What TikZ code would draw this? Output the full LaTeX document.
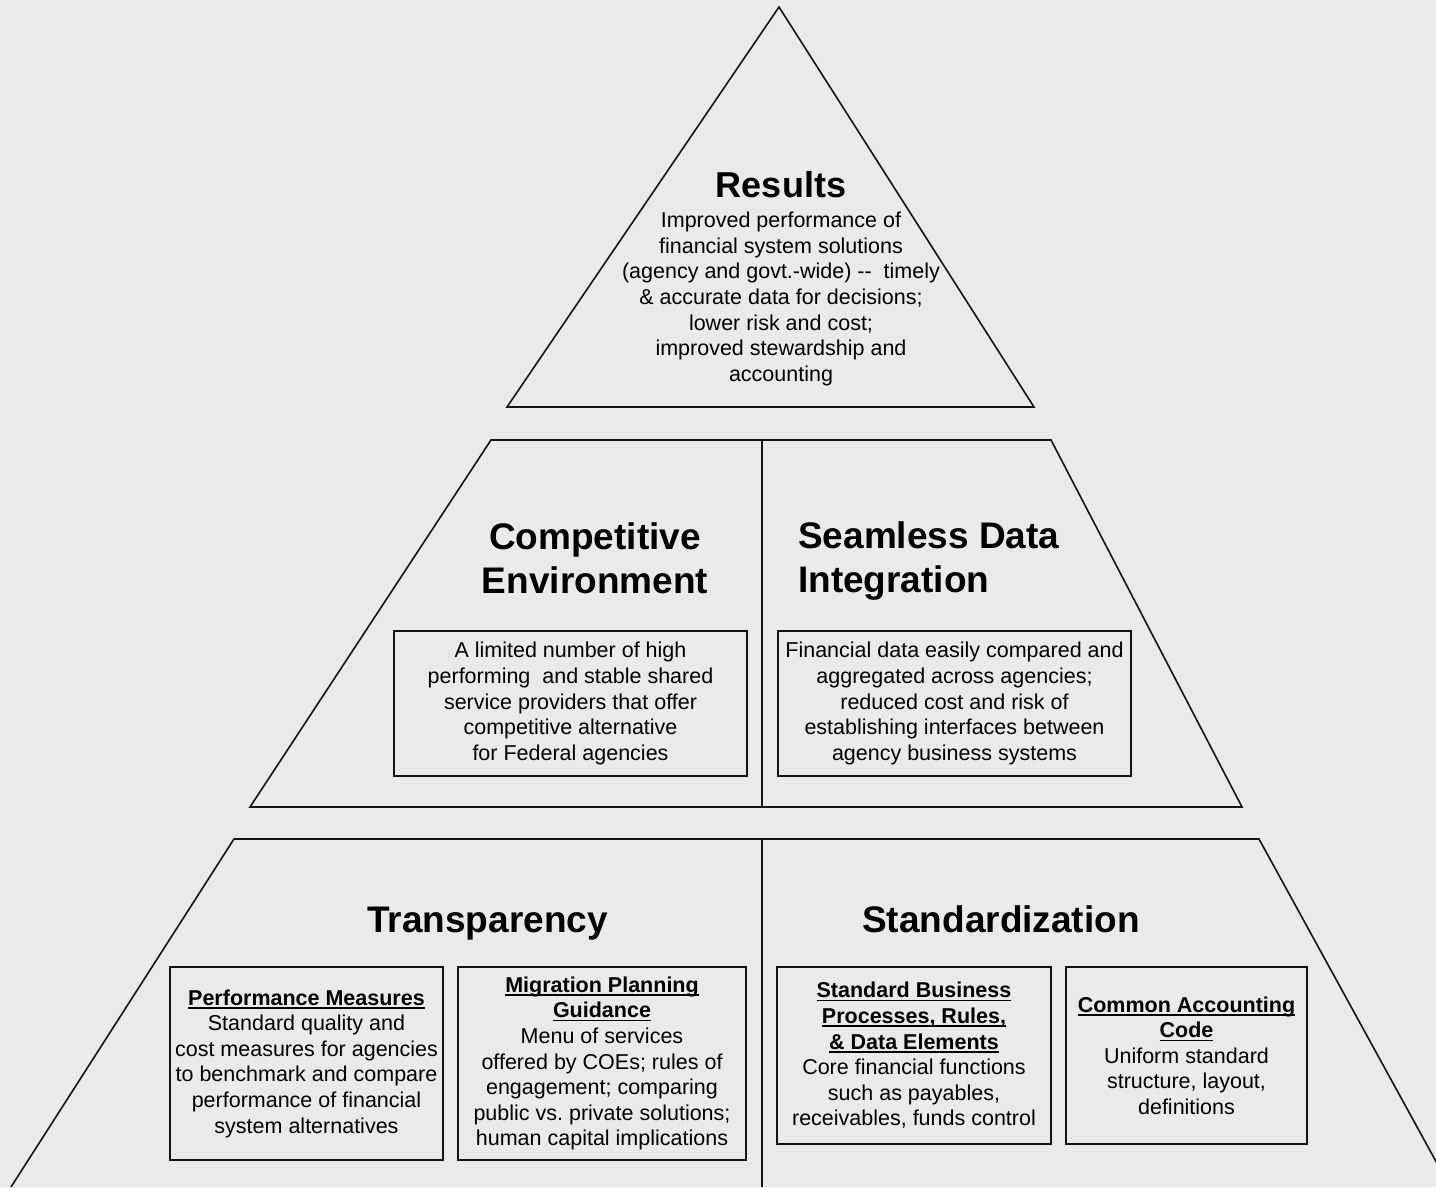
\documentclass[tikz,border=0pt]{standalone}
\usepackage{fontspec}
\setmainfont{Liberation Sans}
\frenchspacing
\definecolor{paper}{RGB}{234,234,234}
\definecolor{ink}{RGB}{20,20,20}
% bold heading with a heavy underline
\newcommand{\hd}[1]{\leavevmode\setbox0=\hbox{\bfseries#1}\rlap{\rule[-3.5pt]{\wd0}{1.6pt}}\box0}

\begin{document}
\begin{tikzpicture}[x=1pt, y=-1pt,
      tier/.style={draw=ink, line width=1.6pt, line join=miter},
      head/.style={font=\fontsize{37}{44}\selectfont\bfseries, inner sep=0pt},
      txt/.style={font=\fontsize{21.5}{25.6}\selectfont, align=center, inner sep=0pt},
      card/.style={txt, draw=ink, line width=1.6pt}]
   \fill[paper] (0, 0) rectangle (1436, 1187);
   \clip (0, 0) rectangle (1436, 1187);

   % top tier
   \draw[tier] (779, 7) -- (1034, 407) -- (507, 407) -- cycle;
   \node[head, font=\fontsize{36}{43}\selectfont\bfseries, anchor=base] (results) at (781, 197) {Results};
   \node[txt] (resultsText) at (781, 299) {Improved performance of\\
      financial system solutions\\
      (agency and govt.-wide) -\kern0pt-~ timely\\
      \& accurate data for decisions;\\
      lower risk and cost;\\
      improved stewardship and\\
      accounting};

   % middle tier
   \draw[tier] (491, 440) -- (1051, 440) -- (1242, 807) -- (250, 807) -- cycle;
   \draw[tier] (762, 440) -- (762, 807);
   \node[head, align=center] (compTitle) at (595, 558) {Competitive\\Environment};
   \node[head, align=left, anchor=west] (seamTitle) at (798, 561) {Seamless Data\\Integration};
   \node[card, minimum width=353pt, minimum height=145pt] (compBox) at (570.5, 703.5)
      {A limited number of high\\
       performing~ and stable shared\\
       service providers that offer\\
       competitive alternative\\
       for Federal agencies};
   \node[card, minimum width=353pt, minimum height=145pt] (seamBox) at (954.5, 703.5)
      {Financial data easily compared and\\
       aggregated across agencies;\\
       reduced cost and risk of\\
       establishing interfaces between\\
       agency business systems};

   % bottom tier
   \draw[tier] (11, 1187) -- (234, 839) -- (1259, 839) -- (1450, 1187);
   \draw[tier] (762, 839) -- (762, 1187);
   \node[head, anchor=base] (transTitle) at (487.5, 932) {Transparency};
   \node[head, anchor=base] (stdTitle) at (1001, 932) {Standardization};
   \node[card, minimum width=273pt, minimum height=193pt] (perfBox) at (306.5, 1063.5)
      {\hd{Performance Measures}\\
       Standard quality and\\
       cost measures for agencies\\
       to benchmark and compare\\
       performance of financial\\
       system alternatives};
   \node[card, minimum width=288pt, minimum height=193pt] (migBox) at (602, 1063.5)
      {\hd{Migration Planning}\\
       \hd{Guidance}\\
       Menu of services\\
       offered by COEs; rules of\\
       engagement; comparing\\
       public vs.\ private solutions;\\
       human capital implications};
   \node[card, minimum width=274pt, minimum height=177pt] (bizBox) at (914, 1055.5)
      {\hd{Standard Business}\\
       \hd{Processes, Rules,}\\
       \hd{\& Data Elements}\\
       Core financial functions\\
       such as payables,\\
       receivables, funds control};
   \node[card, minimum width=241pt, minimum height=177pt] (codeBox) at (1186.5, 1055.5)
      {\hd{Common Accounting}\\
       \hd{Code}\\
       Uniform standard\\
       structure, layout,\\
       definitions};
\end{tikzpicture}
\end{document}
